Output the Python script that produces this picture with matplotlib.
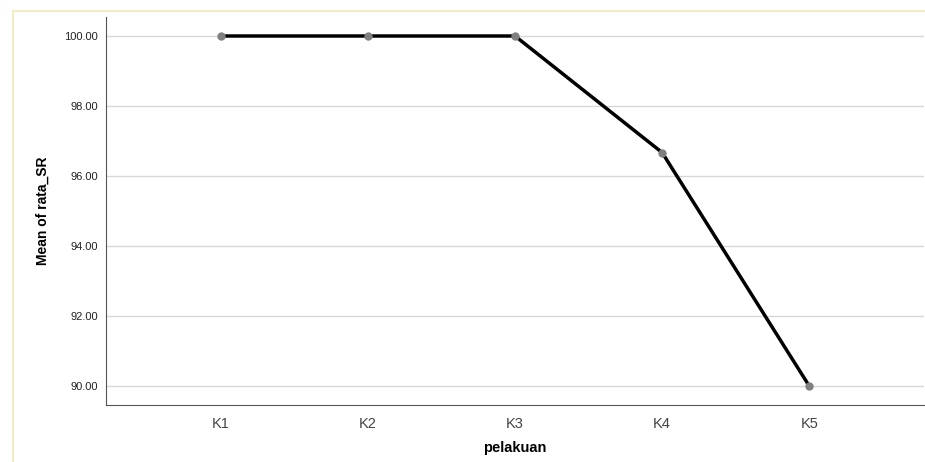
import matplotlib
matplotlib.use("Agg")
import matplotlib.pyplot as plt
from matplotlib.patches import Rectangle

categories = ["K1", "K2", "K3", "K4", "K5"]
means = [100.0, 100.0, 100.0, 96.67, 90.0]
yticks = [90, 92, 94, 96, 98, 100]

plt.rcParams['font.family'] = ['Liberation Sans', 'DejaVu Sans']

W, H = 925, 462
fig = plt.figure(figsize=(W / 100, H / 100), dpi=100)
fig.patch.set_facecolor("white")

# pale yellow frame
fig.patches.append(Rectangle((13 / W, -0.1), 1.2, 1 - 11 / H + 0.1,
                             transform=fig.transFigure, fill=False,
                             edgecolor="#f3ecc0", linewidth=1.5))

ax = fig.add_axes([106 / W, 1 - 405 / H, (924 - 106) / W, (405 - 17) / H])
x = list(range(len(categories)))
ax.plot(x, means, color="black", linewidth=2.5, zorder=3)
ax.plot(x, means, linestyle="none", marker="o", markersize=6,
        color="#808080", markeredgewidth=0, zorder=4)

ax.set_xlim(-0.78, 4.78)
ax.set_ylim(90 - 19 / 35, 100 + 19 / 35)
ax.set_xticks(x)
ax.set_xticklabels(categories, fontsize=10.5, color="#444444")
ax.set_yticks(yticks)
ax.set_yticklabels([f"{v:.2f}" for v in yticks], fontsize=8, color="#222222")
ax.tick_params(length=0)
ax.tick_params(axis="x", pad=9)
ax.tick_params(axis="y", pad=6)
ax.grid(axis="y", color="#d8d8d8", linewidth=1)
ax.set_axisbelow(True)
for s in ["top", "right"]:
    ax.spines[s].set_visible(False)
ax.spines["left"].set_color("#555555")
ax.spines["bottom"].set_color("#555555")

ax.set_ylabel("Mean of rata_SR", fontsize=10, fontweight="bold", labelpad=10)
ax.set_xlabel("pelakuan", fontsize=10.5, fontweight="bold", labelpad=7)

fig.savefig("out.png", dpi=100)
